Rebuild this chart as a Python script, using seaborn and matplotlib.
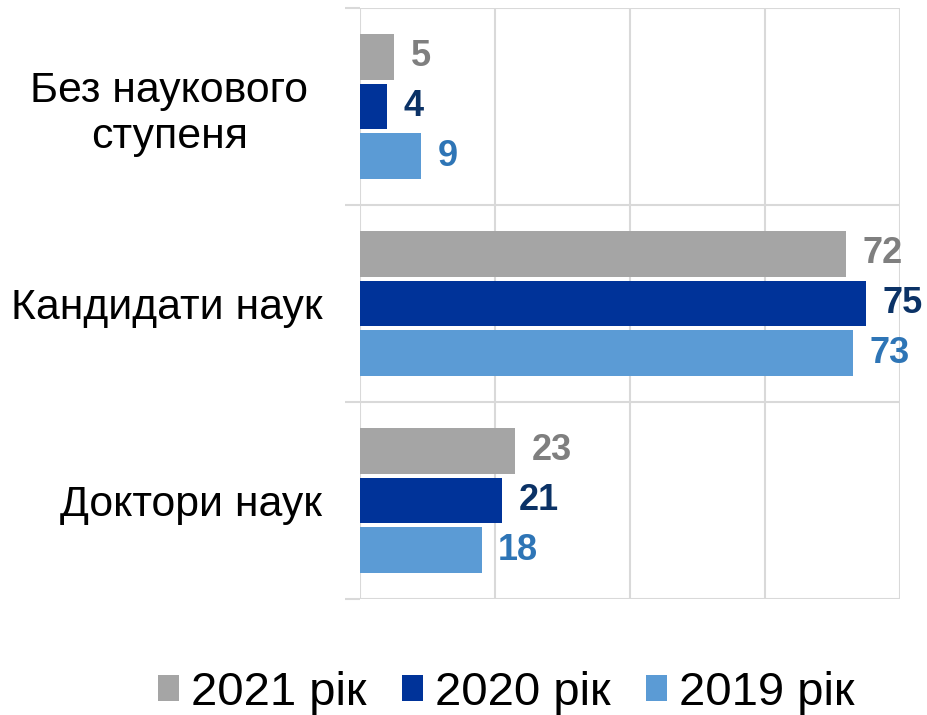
import matplotlib
matplotlib.use("Agg")
import matplotlib.pyplot as plt
import matplotlib.transforms as mtrans
import seaborn as sns
import pandas as pd
from matplotlib.patches import Patch

categories = ["Без наукового\nступеня", "Кандидати наук", "Доктори наук"]
years = ["2021 рік", "2020 рік", "2019 рік"]
values_2021 = [5, 72, 23]
values_2020 = [4, 75, 21]
values_2019 = [9, 73, 18]

bar_colors = ["#A5A5A5", "#003399", "#5B9BD5"]
label_colors = ["#7F7F7F", "#0B3266", "#2E75B6"]

sns.set_theme(style="white")
plt.rcParams["font.family"] = ["Liberation Sans", "DejaVu Sans"]

rows = []
for yr, vals in zip(years, [values_2021, values_2020, values_2019]):
    for c, v in zip(categories, vals):
        rows.append({"cat": c, "year": yr, "value": v})
df = pd.DataFrame(rows)

fig = plt.figure(figsize=(9.27, 7.15), dpi=100)
ax = fig.add_axes([360/927, 1-599/715, 540/927, 591/715])

sns.barplot(data=df, y="cat", x="value", hue="year", order=categories,
            hue_order=years, palette=bar_colors, saturation=1, orient="h",
            width=0.76, gap=0.08, linewidth=0, legend=False, ax=ax, zorder=3)

for cont, col in zip(ax.containers, label_colors):
    ax.bar_label(cont, padding=12, color=col, fontsize=26, fontweight="bold")

ax.set_xlim(0, 80)
ax.set_ylim(2.5, -0.5)
ax.set_xticks([0, 20, 40, 60, 80])
ax.set_xticklabels([])
ax.tick_params(axis="x", length=0)
ax.set_yticks([-0.5, 0.5, 1.5, 2.5], minor=True)
ax.tick_params(axis="y", which="minor", left=True, length=11, width=1.5, color="#D9D9D9")
ax.tick_params(axis="y", which="major", left=True, length=0, pad=27, labelsize=30.8, labelcolor="black")
labs = ax.get_yticklabels()
for lab in labs:
    lab.set_multialignment("center")
labs[0].set_transform(labs[0].get_transform() + mtrans.ScaledTranslation(-14/100, 0, fig.dpi_scale_trans))
ax.grid(axis="x", which="major", color="#D9D9D9", linewidth=1.5, zorder=0)
ax.grid(axis="y", which="minor", color="#D9D9D9", linewidth=1.5, zorder=0)
ax.grid(axis="y", which="major", visible=False)
for s in ax.spines.values():
    s.set_visible(False)
ax.set_xlabel("")
ax.set_ylabel("")

handles = [Patch(facecolor=c, edgecolor="none") for c in bar_colors]
fig.legend(handles, years, loc="center", bbox_to_anchor=(506/927, 1-693/715),
           ncol=3, frameon=False, fontsize=34, labelcolor="black",
           handlelength=0.45, handleheight=0.45,
           handletextpad=0.25, columnspacing=0.75)

fig.savefig("out.png", dpi=100)
